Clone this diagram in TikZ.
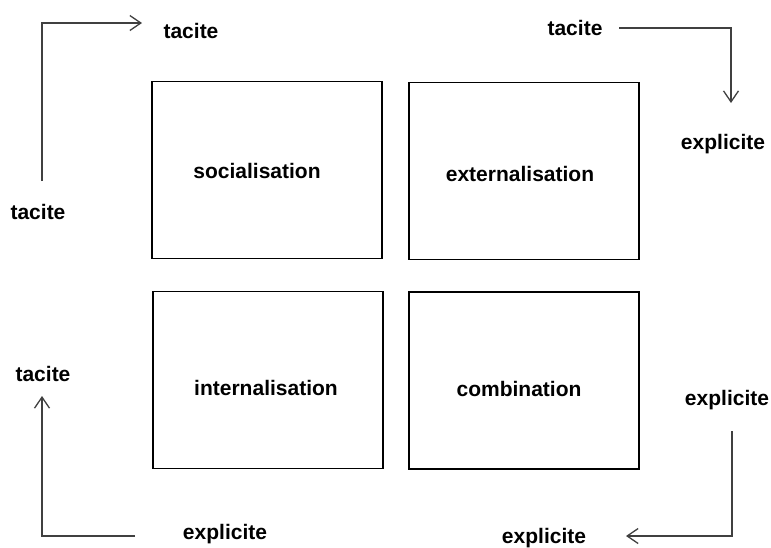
\documentclass[tikz,border=0pt]{standalone}
\usepackage{fontspec}
\setmainfont{Liberation Sans}
\usetikzlibrary{arrows.meta}
\begin{document}
\begin{tikzpicture}[x=1pt,y=-1pt,
  quad/.style={draw=black,line width=1.2pt,minimum width=230pt,minimum height=177pt,inner sep=0pt},
  lbl/.style={font=\fontsize{21}{24}\selectfont\bfseries,inner sep=0pt,text=black},
  flow/.style={draw=black!75,line width=1.3pt,-{Straight Barb[length=11pt,width=15pt,line width=1.3pt]}}]
\useasboundingbox (0,0) rectangle (771,547);
% quadrants
\node[quad] (soc) at (267,170) {};
\node[quad] (ext) at (524,171) {};
\node[quad] (int) at (268,380) {};
\node[quad] (com) at (524,380.5) {};
\node[lbl] (tsoc) at (257,171) {socialisation};
\node[lbl] (text) at (520,174) {externalisation};
\node[lbl] (tint) at (266,388) {internalisation};
\node[lbl] (tcom) at (519,389) {combination};
% outer labels
\node[lbl] (t1) at (191,31) {tacite};
\node[lbl] (t2) at (38,212) {tacite};
\node[lbl] (t3) at (575,28) {tacite};
\node[lbl] (e1) at (723,144) {explicite};
\node[lbl] (t4) at (43,374) {tacite};
\node[lbl] (e2) at (225,534) {explicite};
\node[lbl] (e3) at (727,400) {explicite};
\node[lbl] (e4) at (544,538) {explicite};
% connector ends
\coordinate (a1s) at (42,181);
\coordinate (a1e) at (142,23);
\coordinate (a2s) at (619,28);
\coordinate (a2e) at (731,103);
\coordinate (a3s) at (135,536);
\coordinate (a3e) at (42,396);
\coordinate (a4s) at (732,431);
\coordinate (a4e) at (626,536);
% connectors
\draw[flow] (a1s) |- (a1e);
\draw[flow] (a2s) -| (a2e);
\draw[flow] (a3s) -| (a3e);
\draw[flow] (a4s) |- (a4e);
\end{tikzpicture}
\end{document}
